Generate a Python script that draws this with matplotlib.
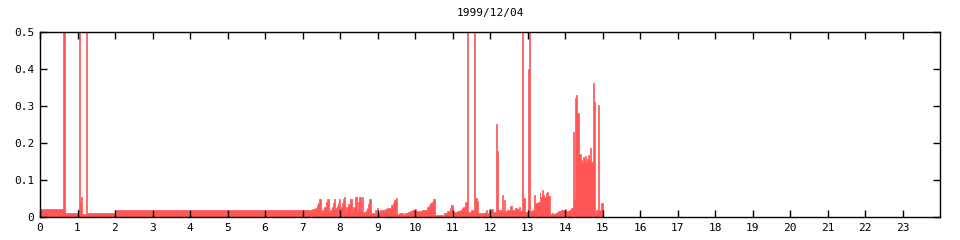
import matplotlib
matplotlib.use("Agg")
import matplotlib.pyplot as plt

# step data: segment start times (hours) and load values, last segment ends at 15.0
t_start = [
    0.0, 0.61, 0.67, 1.0, 1.02, 1.05, 1.075, 1.10, 1.13, 1.218, 1.245, 2.0,
    7.253, 7.333, 7.378, 7.413, 7.449, 7.493, 7.52, 7.573, 7.627, 7.662,
    7.707, 7.733, 7.787, 7.822, 7.849, 7.876, 7.911, 7.938, 7.973,
    8.0, 8.044, 8.089, 8.116, 8.133, 8.16, 8.222, 8.267, 8.311, 8.329,
    8.356, 8.4, 8.444, 8.489, 8.516, 8.551, 8.578, 8.622, 8.684, 8.711,
    8.747, 8.773, 8.818, 8.933, 8.96, 8.996, 9.022, 9.067, 9.111, 9.2,
    9.262, 9.316, 9.351, 9.404, 9.449, 9.484, 9.511, 9.573, 9.6,
    9.67, 9.73, 9.82, 9.87, 9.93, 9.98, 10.03, 10.18, 10.27, 10.31,
    10.36, 10.4, 10.44, 10.49, 10.53, 10.76, 10.84, 10.92, 10.95,
    11.0, 11.11, 11.2, 11.24, 11.29, 11.33, 11.38, 11.41, 11.48, 11.56,
    11.59, 11.64, 11.69, 11.78, 11.87, 11.89, 11.93, 11.96, 11.98, 12.09,
    12.16, 12.19, 12.21, 12.32, 12.35, 12.37, 12.4, 12.44, 12.53, 12.58,
    12.67, 12.71, 12.76, 12.8, 12.85, 12.89, 12.92, 13.01, 13.04, 13.07,
    13.11, 13.16, 13.18, 13.2, 13.29, 13.32, 13.33, 13.38, 13.4, 13.45,
    13.49, 13.52, 13.54, 13.6, 13.64, 13.69, 13.72, 13.78, 13.82, 13.89,
    13.94, 14.0, 14.03, 14.11, 14.16, 14.21, 14.24, 14.26, 14.29, 14.31,
    14.33, 14.36, 14.43, 14.45, 14.48, 14.51, 14.53, 14.56, 14.59, 14.61,
    14.64, 14.67, 14.69, 14.74, 14.76, 14.79, 14.82, 14.87, 14.9, 14.96,
    15.0,
]
load = [
    0.022, 0.9, 0.012, 0.019, 0.022, 0.9, 0.041, 0.055, 0.008, 0.9, 0.012, 0.019,
    0.022, 0.025, 0.032, 0.039, 0.05, 0.013, 0.019, 0.027, 0.041, 0.05,
    0.014, 0.019, 0.027, 0.039, 0.05, 0.023, 0.030, 0.039, 0.05,
    0.027, 0.039, 0.05, 0.055, 0.019, 0.027, 0.036, 0.05, 0.014, 0.020,
    0.027, 0.055, 0.019, 0.041, 0.055, 0.019, 0.053, 0.014, 0.019, 0.023,
    0.036, 0.05, 0.010, 0.019, 0.014, 0.023, 0.014, 0.018, 0.019, 0.021,
    0.023, 0.025, 0.032, 0.039, 0.046, 0.052, 0.007, 0.010, 0.010,
    0.007, 0.010, 0.013, 0.016, 0.019, 0.022, 0.017, 0.019, 0.020, 0.028,
    0.032, 0.037, 0.041, 0.05, 0.0054, 0.010, 0.016, 0.023, 0.032,
    0.014, 0.017, 0.019, 0.023, 0.028, 0.041, 0.9, 0.014, 0.019, 0.9,
    0.051, 0.043, 0.012, 0.010, 0.014, 0.020, 0.012, 0.019, 0.022, 0.014,
    0.251, 0.178, 0.019, 0.059, 0.015, 0.046, 0.017, 0.020, 0.030, 0.020,
    0.024, 0.022, 0.026, 0.015, 0.9, 0.052, 0.013, 0.40, 0.9, 0.017,
    0.020, 0.024, 0.059, 0.037, 0.041, 0.064, 0.055, 0.073, 0.060, 0.055,
    0.064, 0.068, 0.057, 0.008, 0.010, 0.008, 0.010, 0.014, 0.016, 0.019,
    0.020, 0.022, 0.016, 0.020, 0.024, 0.231, 0.048, 0.322, 0.33, 0.262,
    0.282, 0.17, 0.154, 0.145, 0.163, 0.155, 0.165, 0.15, 0.158, 0.168,
    0.155, 0.187, 0.15, 0.361, 0.312, 0.012, 0.020, 0.303, 0.020, 0.038,
    0.0,
]

hour_ticks = list(range(24))
y_ticks = [0, 0.1, 0.2, 0.3, 0.4, 0.5]
y_labels = ["0", "0.1", "0.2", "0.3", "0.4", "0.5"]

fig = plt.figure(figsize=(9.6, 2.4), dpi=100)
ax = fig.add_axes([40 / 960, 1 - 217 / 240, 900 / 960, 185 / 240])

ax.fill_between(t_start, load, step="post", color="#ff5555",
                edgecolor="#ff5555", linewidth=0.5)

ax.set_xlim(0, 24)
ax.set_ylim(0, 0.5)
ax.set_xticks(hour_ticks)
ax.set_xticklabels([str(h) for h in hour_ticks])
ax.set_yticks(y_ticks)
ax.set_yticklabels(y_labels)
ax.tick_params(direction="in", length=5, width=1, top=True, right=True,
               labelsize=8, pad=4)
for lab in ax.get_xticklabels() + ax.get_yticklabels():
    lab.set_family("DejaVu Sans Mono")
for s in ax.spines.values():
    s.set_linewidth(1)
    s.set_color("black")

fig.text(490 / 960, 1 - 13 / 240, "1999/12/04", ha="center", va="center",
         family="DejaVu Sans Mono", fontsize=8)

fig.savefig("out.png", dpi=100)
